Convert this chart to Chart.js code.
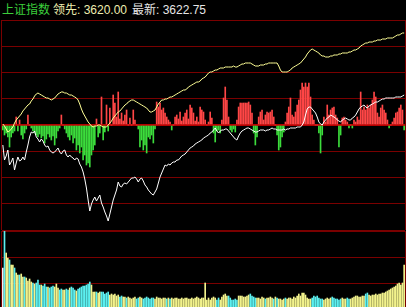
<!DOCTYPE html>
<html>
<head>
<meta charset="utf-8">
<script src="https://cdn.jsdelivr.net/npm/chart.js@4.4.0/dist/chart.umd.min.js"></script>
<style>
  html, body { margin: 0; padding: 0; background: #000; width: 406px; height: 307px; overflow: hidden; }
  #head { position: absolute; left: 0; top: 0; width: 406px; height: 20px;
          font: 12px "Liberation Sans", "Noto Sans CJK SC", sans-serif; line-height: 14px; }
  #head span { position: absolute; top: 3px; white-space: nowrap; }
  #mainChart { position: absolute; left: 0; top: 0; }
  #volChart { position: absolute; left: 0; top: 229px; }
</style>
</head>
<body>
<div id="head">
  <span id="name" style="left:2px;color:#3ccf3c"></span>
  <span id="lead" style="left:53px;color:#eeeeb0"></span>
  <span id="last" style="left:132px;color:#e6e6e6"></span>
</div>
<canvas id="mainChart" width="406" height="231"></canvas>
<canvas id="volChart" width="406" height="80"></canvas>
<script>
// header values
var indexName = '上证指数';
var leadValue = '3620.00';
var lastValue = '3622.75';

// price (white) and leading index (yellow), offset from previous close
var priceLine = [
  -20,-35,-31,-25,-40,-37,-33,-45,-38,-32,
  -36,-35,-32,-35,-27,-20,-12,-7,-8,-6,
  -12,-14,-17,-14,-16,-20,-22,-21,-25,-27,
  -28,-27,-25,-23,-27,-29,-26,-25,-30,-32,
  -30,-32,-33,-35,-33,-34,-39,-42,-47,-54,
  -63,-75,-86,-79,-75,-72,-76,-73,-70,-78,
  -82,-87,-91,-96,-89,-82,-75,-70,-65,-57,
  -61,-62,-59,-58,-59,-57,-55,-53,-53,-52,
  -54,-57,-54,-53,-56,-60,-62,-65,-67,-69,
  -70,-67,-64,-58,-52,-48,-44,-40,-41,-39,
  -40,-38,-37,-37,-35,-35,-33,-31,-30,-29,
  -27,-25,-23,-22,-21,-19,-18,-17,-16,-15,
  -13,-12,-11,-10,-8,-7,-5,-3,-6,-8,
  -6,-5,-5,-4,-4,-6,-8,-10,-12,-14,
  -15,-11,-8,-6,-5,-4,-3,-3,-4,-5,
  -6,-7,-7,-6,-5,-5,-5,-6,-5,-5,
  -4,-3,-4,-4,-5,-5,-5,-5,-4,-5,
  -4,-4,-3,-3,-3,-3,-2,-2,-2,0,
  3,10,16,18,18,16,14,12,8,3,
  1,0,3,5,7,8,10,9,8,7,
  5,4,3,5,6,7,6,5,5,7,
  8,10,13,16,18,19,20,18,17,19,
  20,21,22,23,23,24,25,26,26,27,
  27,27,27,27,27,28,28,28,28,29,30
];
var leadLine = [
  1,-1,-4,-7,-6,-4,-2,2,5,7,
  9,11,14,16,18,20,21,24,26,29,
  31,32,31,30,29,28,27,27,26,25,
  26,27,29,31,32,33,33,32,32,31,
  30,30,29,28,27,25,21,16,12,9,
  6,3,1,-1,-2,-1,-1,0,0,-1,
  -2,-2,-2,0,2,4,7,9,11,13,
  14,16,18,20,21,23,24,25,25,24,
  23,22,21,20,19,18,17,15,13,13,
  14,15,18,21,23,25,25,26,26,27,
  28,28,29,30,31,32,33,34,35,35,
  36,38,39,40,41,42,43,43,44,46,
  47,48,50,52,53,53,54,55,55,56,
  57,57,57,58,58,58,58,58,59,58,
  58,59,60,61,61,62,62,62,62,61,
  60,59,59,59,60,60,60,61,61,62,
  62,62,62,62,62,59,55,53,53,53,
  53,54,55,57,58,59,60,61,62,64,
  66,68,71,73,75,76,75,74,73,72,
  70,69,69,68,68,68,69,69,70,70,
  70,71,71,72,72,72,72,73,73,74,
  75,75,76,77,79,80,81,82,82,83,
  83,83,84,84,85,85,85,86,86,86,
  87,87,87,87,88,89,90,90,91,92,92
];
// buying / selling force bars (red up, green down)
var forceBars = [
  -5,-10,-8,-12,-22,-12,-8,-6,8,-6,
  5,-10,-14,-8,-4,10,0,-3,-6,-8,
  -10,-12,-9,-13,-11,-18,-14,-9,-12,-15,
  -11,-20,-13,-6,-3,10,0,-4,-8,-12,
  -15,-10,-18,-13,-25,-20,-28,-22,-35,-30,
  -40,-38,-42,-30,-25,-20,6,-12,-8,28,
  -15,-7,20,-6,17,0,30,22,8,33,
  6,12,4,10,15,0,7,0,15,5,
  0,-4,-22,-15,-25,-20,-28,-12,-14,-10,
  -18,-4,23,18,22,15,17,12,8,5,
  3,-5,0,8,10,6,13,4,8,12,
  15,6,20,17,12,4,8,3,18,15,
  13,5,0,3,13,7,-8,-17,-6,-5,
  -8,5,27,38,25,8,-5,-7,-4,-7,
  5,18,22,22,22,22,22,23,20,12,
  -8,-20,-12,8,13,15,5,10,13,12,
  13,15,8,0,-10,-25,-22,-12,-7,3,
  12,18,27,10,8,13,20,25,35,42,
  38,42,38,42,28,10,5,0,0,-8,
  -28,-10,8,3,20,10,15,17,18,10,
  7,-22,-10,7,8,5,3,-3,0,-3,
  5,3,8,5,33,15,18,15,20,17,
  20,25,33,28,12,8,17,20,15,12,
  5,-3,0,3,7,12,13,17,20,15,-5
];
// volume
var volume = [
  41,78,56,51,49,44,44,41,36,34,
  34,35,32,32,31,28,30,27,26,25,
  26,29,24,24,23,25,22,22,21,22,
  23,22,25,21,19,20,19,19,20,19,
  21,22,21,19,18,20,21,22,23,23,
  24,25,27,24,17,17,17,16,17,17,
  17,15,16,17,14,15,14,15,13,14,
  12,13,12,12,11,12,11,10,11,12,
  10,11,12,11,10,11,12,11,10,11,
  11,10,12,11,11,10,11,11,10,11,
  10,11,10,11,11,10,10,11,10,11,
  11,10,10,11,10,11,12,11,10,11,
  11,26,9,11,9,11,12,11,9,11,
  9,12,14,15,13,13,11,9,9,10,
  9,13,13,13,12,12,13,14,15,13,
  12,11,11,11,10,12,11,10,11,11,
  12,11,10,12,11,10,10,9,10,11,
  10,11,11,10,12,11,13,15,13,16,
  16,14,11,10,10,11,13,12,13,11,
  10,10,9,10,11,10,11,12,11,10,
  10,9,10,11,10,10,11,10,10,11,
  12,13,13,12,12,13,13,15,16,14,
  13,14,14,15,14,15,15,16,16,17,
  18,19,20,21,22,23,25,26,24,26,44
];

// minute labels 09:30-11:30, 13:01-15:00
var times = [];
function hm(h, m) { return (h < 10 ? '0' : '') + h + ':' + (m < 10 ? '0' : '') + m; }
for (var t = 9 * 60 + 30; t <= 11 * 60 + 30; t++) times.push(hm(Math.floor(t / 60), t % 60));
for (var t = 13 * 60 + 1; t <= 15 * 60; t++) times.push(hm(Math.floor(t / 60), t % 60));

document.getElementById('name').textContent = indexName;
document.getElementById('lead').textContent = '领先: ' + leadValue;
document.getElementById('last').textContent = '最新: ' + lastValue;

var gridRed = '#7a0000';

var frame = {
  id: 'frame',
  afterDraw: function (chart) {
    var c = chart.ctx, a = chart.chartArea;
    c.save();
    c.strokeStyle = gridRed;
    c.lineWidth = 1;
    c.beginPath();
    c.moveTo(a.left - 0.5, a.top); c.lineTo(a.left - 0.5, a.bottom);
    c.moveTo(a.right + 0.5, a.top); c.lineTo(a.right + 0.5, a.bottom);
    c.stroke();
    c.restore();
  }
};

var mainChart = new Chart(document.getElementById('mainChart'), {
  type: 'bar',
  data: {
    labels: times,
    datasets: [{
      type: 'line',
      data: priceLine,
      borderColor: '#ffffff',
      borderWidth: 1,
      pointRadius: 0,
      order: 1
    }, {
      type: 'line',
      data: leadLine,
      borderColor: '#ffff96',
      borderWidth: 1,
      pointRadius: 0,
      order: 2
    }, {
      data: forceBars,
      backgroundColor: function (ctx) { return ctx.raw >= 0 ? '#ff4646' : '#3cdc3c'; },
      barThickness: 1,
      order: 3
    }]
  },
  options: {
    responsive: false,
    animation: false,
    layout: { padding: { top: 20, left: 2, right: 1, bottom: 1 } },
    plugins: { legend: { display: false }, tooltip: { enabled: false } },
    scales: {
      x: { display: false },
      y: {
        min: -105, max: 105,
        ticks: { display: false, stepSize: 26.25 },
        border: { display: false },
        grid: {
          drawTicks: false,
          color: function (ctx) { return ctx.tick.value === 0 ? '#b40000' : gridRed; },
          lineWidth: function (ctx) { return ctx.tick.value === 0 ? 2 : 1; }
        }
      }
    }
  },
  plugins: [frame]
});

var volColors = volume.map(function (v, i) {
  if (i === 0) return '#f0f0f0';
  return priceLine[i] >= priceLine[i - 1] ? '#f2f28c' : '#5cf0f0';
});

var volChart = new Chart(document.getElementById('volChart'), {
  type: 'bar',
  data: {
    labels: times,
    datasets: [{
      data: volume,
      backgroundColor: volColors,
      barThickness: 1
    }]
  },
  options: {
    responsive: false,
    animation: false,
    layout: { padding: { top: 2, left: 2, right: 1, bottom: 0 } },
    plugins: { legend: { display: false }, tooltip: { enabled: false } },
    scales: {
      x: { display: false },
      y: {
        min: 0, max: 78,
        ticks: { display: false, stepSize: 26 },
        border: { display: false },
        grid: { drawTicks: false, color: gridRed, lineWidth: 1 }
      }
    }
  },
  plugins: [frame]
});
</script>
</body>
</html>
